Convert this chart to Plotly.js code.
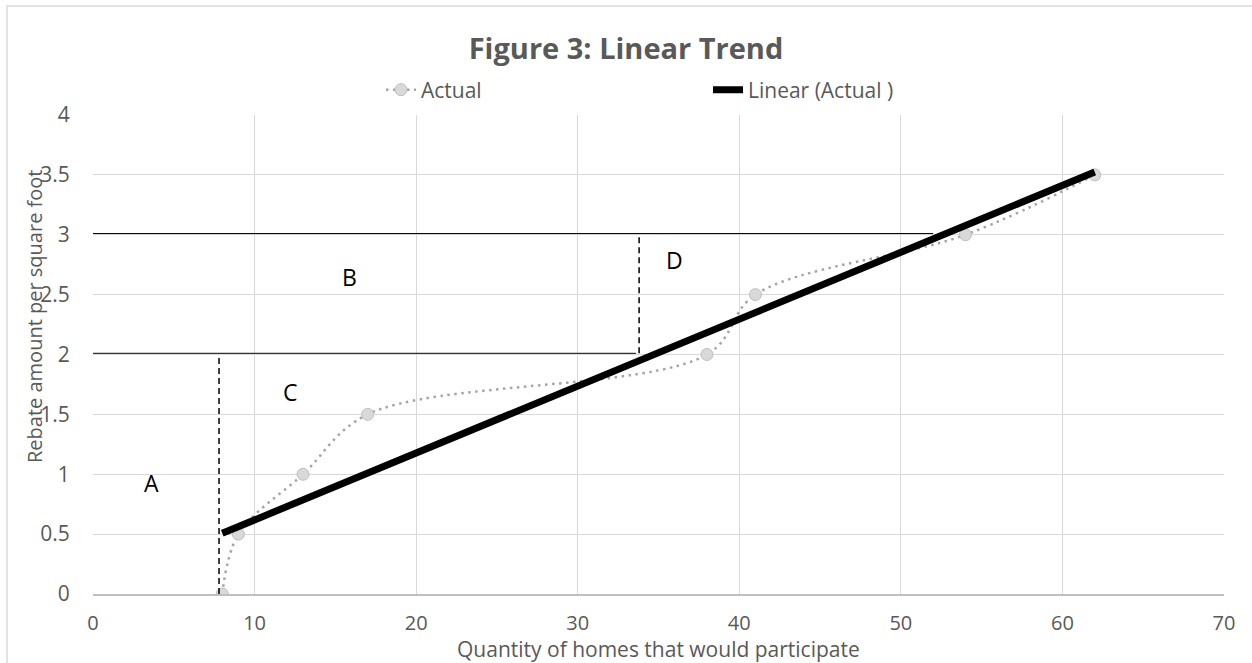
<!DOCTYPE html>
<html>
<head>
<meta charset="utf-8">
<script src="https://cdn.plot.ly/plotly-3.0.1.min.js"></script>
<style>
  html, body { margin: 0; padding: 0; background: #ffffff; }
  #chart { width: 1252px; height: 663px; }
</style>
</head>
<body>
<div id="chart"></div>
<script>
// Observed rebate levels vs. number of participating homes
const homes = [8, 9, 13, 17, 38, 41, 54, 62];
const rebate = [0, 0.5, 1, 1.5, 2, 2.5, 3, 3.5];

// Region labels and guide lines drawn over the plot
const regionLabels = ['A', 'B', 'C', 'D'];
const regionLabelX = [3.65, 15.9, 12.2, 36.0];
const regionLabelY = [0.93, 2.65, 1.69, 2.79];

const guideSolidX0 = [0, 0];
const guideSolidX1 = [52.0, 33.6];
const guideSolidY = [3.01, 2.01];

const guideDashX = [7.8, 33.8];
const guideDashY0 = [0, 2.01];
const guideDashY1 = [2.0, 3.01];

// Least-squares fit of the observed points
function linearFit(xs, ys) {
  const n = xs.length;
  const mx = xs.reduce((a, b) => a + b, 0) / n;
  const my = ys.reduce((a, b) => a + b, 0) / n;
  let sxy = 0, sxx = 0;
  for (let i = 0; i < n; i++) {
    sxy += (xs[i] - mx) * (ys[i] - my);
    sxx += (xs[i] - mx) * (xs[i] - mx);
  }
  const slope = sxy / sxx;
  return { slope: slope, intercept: my - slope * mx };
}
const fit = linearFit(homes, rebate);
const trendX = [Math.min(...homes), Math.max(...homes)];
const trendY = trendX.map(x => fit.intercept + fit.slope * x);

const FONT = '"Open Sans", "Liberation Sans", sans-serif';
const GREY_TEXT = '#595959';

// plot area in pixels
const M = { l: 93, r: 28, t: 115, b: 69 };
const PW = 1252 - M.l - M.r;
const PH = 663 - M.t - M.b;
const px2paperX = px => (px - M.l) / PW;
const px2paperY = py => (663 - M.b - py) / PH;

const traces = [
  {
    x: homes, y: rebate,
    name: 'Actual',
    type: 'scatter',
    mode: 'lines+markers',
    line: { color: '#a6a6a6', width: 2.5, dash: '2.5px,4.5px', shape: 'spline', smoothing: 1 },
    marker: { symbol: 'circle', size: 12, color: '#d9d9d9', line: { color: '#bfbfbf', width: 1 } }
  },
  {
    x: trendX, y: trendY,
    name: 'Linear (Actual )',
    type: 'scatter',
    mode: 'lines',
    line: { color: '#000000', width: 7 }
  }
];

const shapes = [];
for (let i = 0; i < guideSolidY.length; i++) {
  shapes.push({
    type: 'line', xref: 'x', yref: 'y',
    x0: guideSolidX0[i], x1: guideSolidX1[i], y0: guideSolidY[i], y1: guideSolidY[i],
    line: { color: '#000000', width: 1 }
  });
}
for (let i = 0; i < guideDashX.length; i++) {
  shapes.push({
    type: 'line', xref: 'x', yref: 'y',
    x0: guideDashX[i], x1: guideDashX[i], y0: guideDashY0[i], y1: guideDashY1[i],
    line: { color: '#000000', width: 1.5, dash: '6px,4px' }
  });
}
// chart frame
shapes.push({
  type: 'rect', xref: 'paper', yref: 'paper',
  x0: px2paperX(7), x1: px2paperX(1262),
  y0: px2paperY(680), y1: px2paperY(6),
  line: { color: '#d9d9d9', width: 1.5 }, fillcolor: 'rgba(0,0,0,0)', layer: 'below'
});

const annotations = regionLabels.map((t, i) => ({
  x: regionLabelX[i], y: regionLabelY[i], xref: 'x', yref: 'y',
  text: t, showarrow: false,
  font: { family: FONT, size: 23, color: '#000000' }
}));
annotations.push({
  xref: 'paper', yref: 'paper', x: px2paperX(34), y: px2paperY(316),
  text: 'Rebate amount per square foot', textangle: -90, showarrow: false,
  xanchor: 'center', yanchor: 'middle',
  font: { family: FONT, size: 20, color: GREY_TEXT }
});
annotations.push({
  xref: 'paper', yref: 'paper', x: px2paperX(658), y: px2paperY(649),
  text: 'Quantity of homes that would participate', showarrow: false,
  xanchor: 'center', yanchor: 'middle',
  font: { family: FONT, size: 21, color: GREY_TEXT }
});

const layout = {
  width: 1252, height: 663,
  margin: M,
  paper_bgcolor: '#ffffff', plot_bgcolor: '#ffffff',
  font: { family: FONT, color: GREY_TEXT },
  title: {
    text: '<b>Figure 3: Linear Trend</b>',
    x: 0.5, xanchor: 'center', y: 1 - 49 / 663, yanchor: 'middle',
    font: { family: FONT, size: 29, color: GREY_TEXT }
  },
  showlegend: true,
  legend: {
    orientation: 'h', x: px2paperX(381), xanchor: 'left', y: px2paperY(90), yanchor: 'middle',
    font: { family: FONT, size: 21, color: GREY_TEXT },
    itemwidth: 30, entrywidth: 282, bgcolor: 'rgba(0,0,0,0)'
  },
  xaxis: {
    range: [0, 70], dtick: 10, tick0: 0,
    showgrid: true, gridcolor: '#d9d9d9', gridwidth: 1,
    zeroline: false, showline: true, linecolor: '#bfbfbf', linewidth: 1.5,
    ticks: 'outside', ticklen: 10, tickcolor: 'rgba(0,0,0,0)',
    tickfont: { family: FONT, size: 20, color: GREY_TEXT },
    fixedrange: true
  },
  yaxis: {
    range: [0, 4], dtick: 0.5, tick0: 0,
    showgrid: true, gridcolor: '#d9d9d9', gridwidth: 1,
    zeroline: false, showline: false,
    ticks: 'outside', ticklen: 18, tickcolor: 'rgba(0,0,0,0)',
    tickfont: { family: FONT, size: 21, color: GREY_TEXT },
    fixedrange: true
  },
  shapes: shapes,
  annotations: annotations
};

Plotly.newPlot('chart', traces, layout, { displayModeBar: false, staticPlot: true });
</script>
</body>
</html>
